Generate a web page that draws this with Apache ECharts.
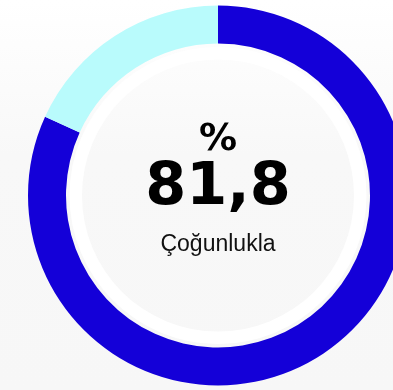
<!DOCTYPE html>
<html>
<head>
<meta charset="utf-8">
<script src="https://cdn.jsdelivr.net/npm/echarts@6/dist/echarts.min.js"></script>
<style>
  html, body { margin: 0; padding: 0; }
  #chart { width: 393px; height: 390px; }
</style>
</head>
<body>
<div id="chart"></div>
<script>
// Share of respondents: main value and the remainder
const categories = ['Çoğunlukla', 'Diğer'];
const values = [81.8, 18.2];
const sliceColors = ['#1400d8', '#b9fbfc'];
const caption = 'Çoğunlukla';

const center = [218, 195.5];
const mainText = values[0].toFixed(1).replace('.', ',');

const chart = echarts.init(document.getElementById('chart'), null, { renderer: 'canvas' });

chart.setOption({
  backgroundColor: {
    type: 'linear', x: 0, y: 0, x2: 0, y2: 1,
    colorStops: [
      { offset: 0, color: '#ffffff' },
      { offset: 0.4, color: '#f8f8f8' },
      { offset: 1, color: '#f7f7f7' }
    ]
  },
  animation: false,
  series: [
    {
      type: 'pie',
      center: center,
      radius: [152, 190],
      startAngle: 90,
      clockwise: true,
      silent: true,
      label: { show: false },
      labelLine: { show: false },
      itemStyle: { borderWidth: 0 },
      data: categories.map((name, i) => ({
        name: name,
        value: values[i],
        itemStyle: { color: sliceColors[i] }
      }))
    },
    {
      // white halo inside the ring
      type: 'pie',
      center: center,
      radius: [136, 148.5],
      silent: true,
      label: { show: false },
      labelLine: { show: false },
      data: [{ value: 1, itemStyle: { color: '#ffffff' } }]
    }
  ],
  graphic: [
    {
      type: 'text',
      x: center[0], y: 140,
      style: {
        text: '%',
        font: 'bold 38px "DejaVu Sans"',
        fill: '#000',
        align: 'center',
        verticalAlign: 'middle'
      }
    },
    {
      type: 'text',
      x: center[0], y: 189,
      style: {
        text: mainText,
        font: 'bold 59px "DejaVu Sans"',
        fill: '#000',
        align: 'center',
        verticalAlign: 'middle'
      }
    },
    {
      type: 'text',
      x: center[0], y: 245,
      style: {
        text: caption,
        font: '23px "Liberation Sans"',
        fill: '#111',
        align: 'center',
        verticalAlign: 'middle'
      }
    }
  ]
});
</script>
</body>
</html>
